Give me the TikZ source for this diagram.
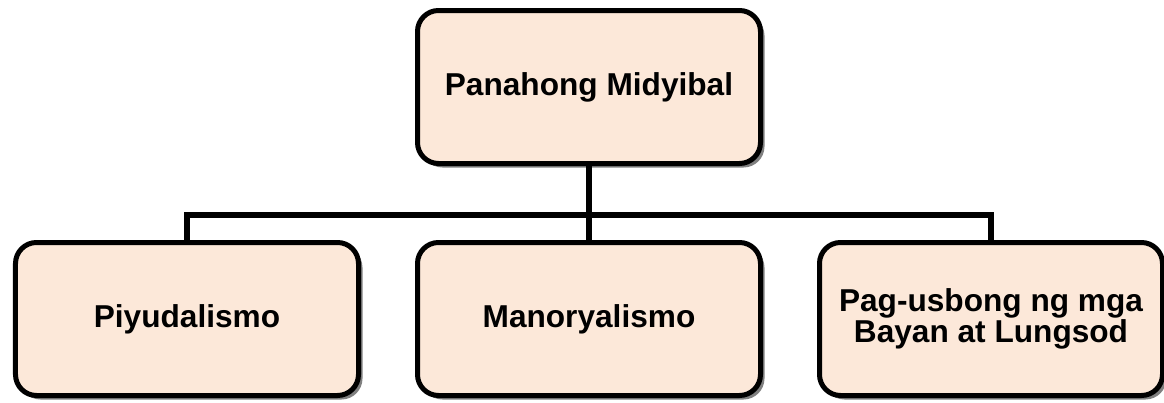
\documentclass[tikz,border=0pt]{standalone}
\usepackage{fontspec}
\setmainfont{Liberation Sans}
\usepackage{xcolor}
\usepackage{tikz}
\usetikzlibrary{positioning, shadows}

\definecolor{peach}{RGB}{252,232,217}

\begin{document}
\begin{tikzpicture}[
        node distance=1.48cm and 1.08cm,
        topic/.style={draw, line width=0.1cm, rounded corners=0.42cm, fill=peach,
            minimum width=6.86cm, minimum height=3.06cm, align=center,
            font=\fontsize{18}{18}\selectfont\bfseries,
            drop shadow={shadow xshift=0.08cm, shadow yshift=-0.08cm, fill=black!50, opacity=1}},
        link/.style={draw, line width=0.11cm}
    ]
        \useasboundingbox (0,0) rectangle (23.28,8.04);

        % Boxes
        \node[topic] (main) at (11.78,6.30) {Panahong Midyibal};
        \node[topic, below=of main] (manor) {Manoryalismo};
        \node[topic, left=of manor] (piyu) {Piyudalismo};
        \node[topic, right=of manor] (bayan) {Pag-usbong ng mga\\Bayan at Lungsod};

        % Lines
        \coordinate (joint) at (main.south |- 0,3.74);
        \draw[link] (main.south) -- (manor.north);
        \draw[link] (piyu.north) |- (joint) -| (bayan.north);
    \end{tikzpicture}
\end{document}
